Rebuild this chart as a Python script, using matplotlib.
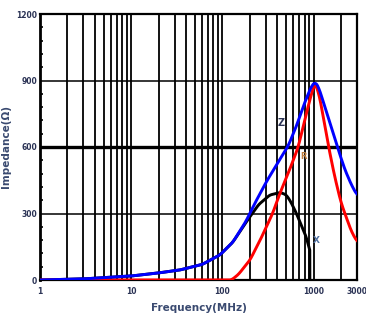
import numpy as np
import matplotlib
matplotlib.use("Agg")
import matplotlib.pyplot as plt
from matplotlib.ticker import FixedLocator, NullFormatter, MultipleLocator

# Data
x_freq = [1, 3, 10, 20, 34, 60, 94, 130, 185, 250, 330, 430, 500, 560, 650, 710, 770, 840, 890, 910, 912]
x_vals = [0, 5, 18, 32, 45, 70, 113, 170, 265, 340, 383, 395, 385, 355, 300, 262, 228, 190, 150, 120, 0]

z_freq = [1, 3, 10, 20, 34, 60, 94, 130, 180, 230, 306, 400, 528, 650, 800, 950, 1050, 1150, 1300, 1500, 1800, 2200, 2600, 3000]
z_vals = [0, 5, 18, 32, 45, 70, 113, 170, 262, 350, 445, 525, 605, 695, 800, 875, 895, 865, 795, 715, 608, 500, 430, 383]

r_freq = [1, 100, 126, 150, 201, 260, 356, 428, 550, 680, 800, 920, 1035, 1150, 1300, 1450, 1700, 2000, 2300, 2600, 3000]
r_vals = [0, 0, 0, 25, 90, 180, 300, 391, 500, 600, 720, 820, 890, 840, 720, 610, 470, 350, 280, 220, 173]

x_ticks = [1, 10, 100, 1000, 3000]
x_ticklabels = ["1", "10", "100", "1000", "3000"]
y_ticks = [0, 300, 600, 900, 1200]

fig = plt.figure(figsize=(3.66, 3.19), dpi=100)
ax = fig.add_axes([40/366, 1-280/319, 317/366, 266/319])

# vertical grid at all log minor positions
grid_x = [m * 10**d for d in range(0, 4) for m in range(1, 10) if m * 10**d <= 3000]
for gx in grid_x:
    ax.axvline(gx, color="black", lw=1.3, zorder=1)
for gy in [300, 900]:
    ax.axhline(gy, color="black", lw=1.1, zorder=1)
ax.axhline(600, color="black", lw=2.4, zorder=1)

def smooth(xf, yv, k=13):
    lx = np.log10(xf)
    xs = np.linspace(lx[0], lx[-1], 700)
    ys = np.interp(xs, lx, yv)
    ker = np.ones(k) / k
    ysp = np.pad(ys, k//2, mode="edge")
    yss = np.convolve(ysp, ker, mode="valid")
    return 10**xs, yss

# X: smooth body then a vertical drop to zero
xs, ys = smooth(x_freq[:-1], x_vals[:-1], k=11)
xs = np.append(xs, x_freq[-1])
ys = np.append(ys, x_vals[-1])
ax.plot(xs, ys, color="black", lw=2.1, zorder=3)

xs, ys = smooth(r_freq, r_vals, k=11)
ax.plot(xs, ys, color="#ff0000", lw=2.1, zorder=3)
xs, ys = smooth(z_freq, z_vals, k=11)
ax.plot(xs, ys, color="#0000ff", lw=2.1, zorder=3)

ax.set_xscale("log")
ax.set_xlim(1, 3000)
ax.set_ylim(0, 1200)
ax.xaxis.set_major_locator(FixedLocator(x_ticks))
ax.set_xticklabels(x_ticklabels)
ax.xaxis.set_minor_locator(FixedLocator(grid_x))
ax.xaxis.set_minor_formatter(NullFormatter())
ax.set_yticks(y_ticks)
ax.yaxis.set_minor_locator(MultipleLocator(60))

tcol = "#2b3355"
ax.tick_params(axis="both", which="both", direction="in", labelsize=5.5, colors="black", labelcolor=tcol)
ax.tick_params(axis="y", which="minor", length=2.5, width=1.2)
ax.tick_params(axis="y", which="major", length=0, pad=2)
ax.tick_params(axis="x", which="both", length=0, pad=5)
for lab in ax.get_xticklabels() + ax.get_yticklabels():
    lab.set_fontweight("bold")

for s in ax.spines.values():
    s.set_linewidth(1.6)
    s.set_color("black")
ax.spines["left"].set_linewidth(2.0)

ax.set_xlabel("Frequency(MHz)", fontsize=7.5, fontweight="bold", color="#3a4a70")
ax.xaxis.set_label_coords(0.5, -0.085)
ax.set_ylabel("Impedance(Ω)", fontsize=7.5, fontweight="bold", color="#3a4a70")
ax.yaxis.set_label_coords(-0.09, 0.5)

ax.text(440, 708, "Z", fontsize=7, fontweight="bold", color="#2b3355", ha="center", va="center", zorder=4)
ax.text(770, 556, "R", fontsize=6, fontweight="bold", color="#c08040", ha="center", va="center", zorder=4)
ax.text(1085, 180, "X", fontsize=6.5, fontweight="bold", color="#5070a0", ha="center", va="center", zorder=4)

fig.savefig("out.png", dpi=100)
